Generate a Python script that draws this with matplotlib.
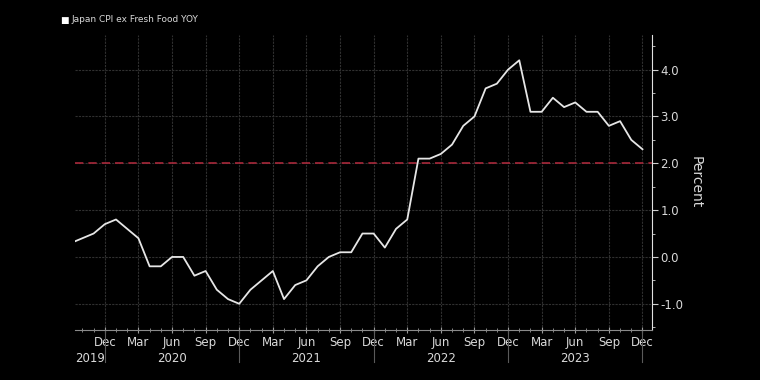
import numpy as np
import pandas as pd
import matplotlib
matplotlib.use("Agg")
import matplotlib.pyplot as plt

# Japan CPI ex fresh food, YoY %, monthly Sep 2019 .. Dec 2023
months = pd.date_range("2019-09-01", "2023-12-01", freq="MS")
cpi = [0.3, 0.4, 0.5, 0.7,
       0.8, 0.6, 0.4, -0.2, -0.2, 0.0, 0.0, -0.4, -0.3, -0.7, -0.9, -1.0,
       -0.7, -0.5, -0.3, -0.9, -0.6, -0.5, -0.2, 0.0, 0.1, 0.1, 0.5, 0.5,
       0.2, 0.6, 0.8, 2.1, 2.1, 2.2, 2.4, 2.8, 3.0, 3.6, 3.7, 4.0,
       4.2, 3.1, 3.1, 3.4, 3.2, 3.3, 3.1, 3.1, 2.8, 2.9, 2.5, 2.3]
target = 2.0
yticks = [-1.0, 0.0, 1.0, 2.0, 3.0, 4.0]
series_name = "Japan CPI ex Fresh Food YOY"

FG = "#d9d9d9"
GRID = "#303030"

plt.rcParams["font.family"] = ["Liberation Sans Narrow", "DejaVu Sans"]

fig = plt.figure(figsize=(7.6, 3.8), dpi=100, facecolor="black")
ax = fig.add_axes([75 / 760, 50 / 380, 577 / 760, 295 / 380], facecolor="black")

x = np.arange(len(cpi))
ax.plot(x, cpi, color="#e6e6e6", lw=1.3, zorder=3)
ax.axhline(target, color="#a8283a", lw=1.2, ls=(0, (5, 3)), zorder=2)

ax.set_xlim(0.34, 51.85)
ax.set_ylim(-1.56, 4.74)

# quarter ticks / grid
quarter = [i for i, d in enumerate(months) if d.month in (3, 6, 9, 12) and i >= 3]
for i in quarter:
    ax.axvline(i, color=GRID, lw=0.8, ls=(0, (2, 1)), zorder=1)
for v in yticks:
    ax.axhline(v, color=GRID, lw=0.8, ls=(0, (2, 1)), zorder=1)

ax.set_xticks(quarter)
ax.set_xticklabels([months[i].strftime("%b") for i in quarter])
ax.set_xticks(x[1:], minor=True)
ax.tick_params(axis="x", which="both", colors="#9a9a9a", direction="inout",
               labelcolor=FG, labelsize=8.5, pad=2)
ax.tick_params(axis="x", which="major", length=5)
ax.tick_params(axis="x", which="minor", length=3)

# year separators and labels
tr = ax.get_xaxis_transform()
for i, d in enumerate(months):
    if d.month == 12:
        ax.plot([i, i], [0, -0.11], transform=tr, color="#5a5a5a", lw=0.8,
                clip_on=False)
    if d.month == 6:
        ax.text(i, -0.075, str(d.year), transform=tr, ha="center", va="top",
                color=FG, fontsize=8.5)
ax.text(0.34, -0.075, str(months[0].year), transform=tr, ha="left", va="top",
        color=FG, fontsize=8.5)

ax.yaxis.tick_right()
ax.yaxis.set_label_position("right")
ax.set_yticks(yticks)
ax.set_yticklabels([f"{v:.1f}" for v in yticks])
ax.set_yticks(np.arange(-1.5, 4.75, 0.5), minor=True)
ax.tick_params(axis="y", which="both", colors="#cfcfcf", direction="out",
               labelcolor=FG, labelsize=8.5, pad=2)
ax.tick_params(axis="y", which="major", length=4)
ax.tick_params(axis="y", which="minor", length=2)
ax.set_ylabel("Percent", color=FG, fontsize=10, rotation=270, labelpad=14)

for side in ("top", "left"):
    ax.spines[side].set_visible(False)
ax.spines["right"].set_color("#e0e0e0")
ax.spines["bottom"].set_color("#8a8a8a")

# legend box
fig.text(60 / 760, 1 - 20 / 380, "\u25a0", color="white", fontsize=6.5,
         va="center", ha="left", family="DejaVu Sans")
fig.text(71 / 760, 1 - 20 / 380, series_name, color=FG, fontsize=6.5,
         va="center", ha="left")

fig.savefig("out.png", dpi=100, facecolor="black")
